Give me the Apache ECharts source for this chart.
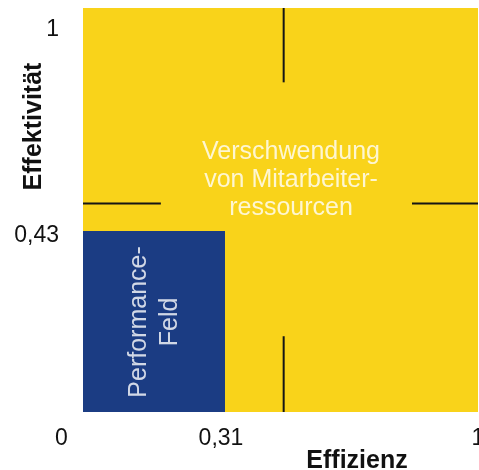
<!DOCTYPE html>
<html>
<head>
<meta charset="utf-8">
<script src="https://cdn.jsdelivr.net/npm/echarts@6/dist/echarts.min.js"></script>
<style>html,body{margin:0;padding:0;background:#fff;}#c{width:479px;height:470px;}</style>
</head>
<body>
<div id="c"></div>
<script>
// ---- data ----
const effizienzGrenze = 0.31;      // x threshold
const effektivitaetGrenze = 0.43;  // y threshold
const xTickValues = [0, 0.31, 1];
const xTickLabels = ['0', '0,31', '1'];
const yTickValues = [0.43, 1];
const yTickLabels = ['0,43', '1'];
const xAxisTitle = 'Effizienz';
const yAxisTitle = 'Effektivität';
// areas: [xMin, xMax, yMin, yMax]
const gesamtFeld = [0, 1, 0, 1];
const performanceFeld = [0, 0.31, 0, 0.43];
// divider segments: [x0, y0, x1, y1]
const dividers = [
  [0.47, 0.81, 0.47, 1],
  [0.47, 0, 0.47, 0.18],
  [0, 0.5, 0.17, 0.5],
  [0.82, 0.5, 1, 0.5]
];
const areaTexts = [
  { text: 'Verschwendung\nvon Mitarbeiter-\nressourcen', x: 0.49, y: 0.56, rotate: 0, lineHeight: 28 },
  { text: 'Performance-\nFeld', x: 0.157, y: 0.214, rotate: 90, lineHeight: 31 }
];

// ---- style ----
const FONT = '"Liberation Sans", Arial, Helvetica, sans-serif';
const YELLOW = '#F9D31A';
const BLUE = '#1B3C83';
const LINE = '#151515';

// grids: 0 bottom-left, 1 bottom-right, 2 top-left, 3 top-right
const gridRanges = [
  { x: [0, effizienzGrenze], y: [0, effektivitaetGrenze] },
  { x: [effizienzGrenze, 1], y: [0, effektivitaetGrenze] },
  { x: [0, effizienzGrenze], y: [effektivitaetGrenze, 1] },
  { x: [effizienzGrenze, 1], y: [effektivitaetGrenze, 1] }
];
const gridBoxes = [
  { left: 83, top: 231, width: 142, height: 181 },
  { left: 225, top: 231, width: 253, height: 181 },
  { left: 83, top: 8, width: 142, height: 223 },
  { left: 225, top: 8, width: 253, height: 223 }
];
function gridOf(x, y) {
  return (x > effizienzGrenze ? 1 : 0) + (y > effektivitaetGrenze ? 2 : 0);
}
function inRange(v, r, isFirst) {
  return isFirst ? (v >= r[0] && v <= r[1]) : (v > r[0] && v <= r[1]);
}

const xAxes = [], yAxes = [];
gridRanges.forEach((g, i) => {
  const xVals = [], yVals = [];
  xTickValues.forEach(v => { if (i < 2 && inRange(v, g.x, g.x[0] === 0)) xVals.push(v); });
  yTickValues.forEach(v => { if ((i === 0 || i === 2) && inRange(v, g.y, g.y[0] === 0)) yVals.push(v); });
  xAxes.push({
    type: 'value', gridIndex: i, min: g.x[0], max: g.x[1],
    axisLine: { show: false }, axisTick: { show: false }, splitLine: { show: false },
    axisLabel: {
      show: xVals.length > 0, customValues: xVals, margin: 15,
      color: '#111', fontFamily: FONT, fontSize: 23,
      formatter: v => {
        const idx = xTickValues.findIndex(t => Math.abs(t - v) < 1e-9);
        const s = xTickLabels[idx];
        if (idx === 0) return '{z|' + s + '}';
        if (idx === 1) return '{m|' + s + '}';
        return s;
      },
      rich: {
        z: { padding: [0, 43, 0, 0], fontSize: 23, fontFamily: FONT, color: '#111' },
        m: { padding: [0, 8, 0, 0], fontSize: 23, fontFamily: FONT, color: '#111' }
      }
    },
    name: i === 1 ? xAxisTitle : '',
    nameLocation: 'middle', nameGap: 37, nameMoveOverlap: false,
    nameTextStyle: { fontFamily: FONT, fontSize: 25, fontWeight: 'bold', color: '#111', padding: [0, 0, 0, 11] }
  });
  yAxes.push({
    type: 'value', gridIndex: i, min: g.y[0], max: g.y[1],
    axisLine: { show: false }, axisTick: { show: false }, splitLine: { show: false },
    axisLabel: {
      show: yVals.length > 0, customValues: yVals, margin: 24,
      color: '#111', fontFamily: FONT, fontSize: 23,
      formatter: v => {
        const idx = yTickValues.findIndex(t => Math.abs(t - v) < 1e-9);
        const s = yTickLabels[idx];
        return (idx === yTickValues.length - 1 ? '{t|' : '{b|') + s + '}';
      },
      rich: {
        t: { padding: [44, 0, 0, 0], fontSize: 23, fontFamily: FONT, color: '#111' },
        b: { padding: [9, 0, 0, 0], fontSize: 23, fontFamily: FONT, color: '#111' }
      }
    },
    name: i === 2 ? yAxisTitle : '',
    nameLocation: 'middle', nameGap: 36, nameRotate: 90, nameMoveOverlap: false,
    nameTextStyle: { fontFamily: FONT, fontSize: 25, fontWeight: 'bold', color: '#111', padding: [0, 14, 0, 0] }
  });
});

const series = [];
// area fills, clipped to each grid
[[gesamtFeld, YELLOW], [performanceFeld, BLUE]].forEach(([a, color]) => {
  gridRanges.forEach((g, i) => {
    const x0 = Math.max(a[0], g.x[0]), x1 = Math.min(a[1], g.x[1]);
    const y0 = Math.max(a[2], g.y[0]), y1 = Math.min(a[3], g.y[1]);
    if (x1 <= x0 || y1 <= y0) return;
    series.push({
      type: 'custom', xAxisIndex: i, yAxisIndex: i, silent: true, clip: false,
      data: [[x0, x1, y0, y1]],
      renderItem: (params, api) => {
        const p0 = api.coord([api.value(0), api.value(2)]);
        const p1 = api.coord([api.value(1), api.value(3)]);
        return {
          type: 'rect',
          shape: { x: Math.min(p0[0], p1[0]), y: Math.min(p0[1], p1[1]), width: Math.abs(p1[0] - p0[0]), height: Math.abs(p1[1] - p0[1]) },
          style: { fill: color }
        };
      }
    });
  });
});
// divider lines
dividers.forEach(d => {
  const gi = gridOf((d[0] + d[2]) / 2, (d[1] + d[3]) / 2);
  series.push({
    type: 'line', xAxisIndex: gi, yAxisIndex: gi, silent: true, symbol: 'none',
    data: [[d[0], d[1]], [d[2], d[3]]],
    lineStyle: { color: LINE, width: 2 }
  });
});
// area texts
areaTexts.forEach(t => {
  const gi = gridOf(t.x, t.y);
  series.push({
    type: 'scatter', xAxisIndex: gi, yAxisIndex: gi, silent: true, symbolSize: 0,
    data: [[t.x, t.y]],
    label: {
      show: true, position: 'inside', rotate: t.rotate, formatter: t.text,
      color: '#fff', fontFamily: FONT, fontSize: 25, lineHeight: t.lineHeight, align: 'center', verticalAlign: 'middle'
    }
  });
});

const chart = echarts.init(document.getElementById('c'), null, { renderer: 'canvas' });
chart.setOption({
  animation: false,
  grid: gridBoxes.map(b => Object.assign({ containLabel: false, outerBoundsMode: 'none' }, b)),
  xAxis: xAxes,
  yAxis: yAxes,
  series: series
});
</script>
</body>
</html>
